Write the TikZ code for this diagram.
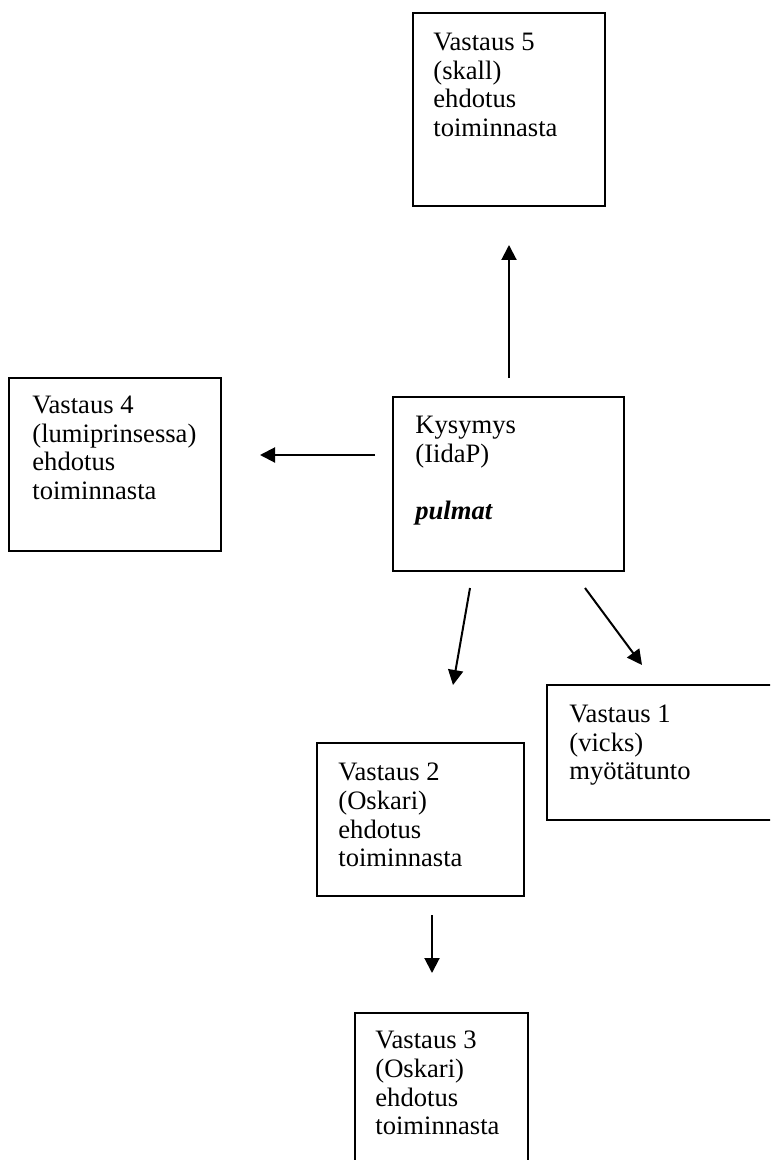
\documentclass[tikz,border=0pt]{standalone}
\usepackage{fontspec}
\setmainfont{Liberation Serif}
\usetikzlibrary{arrows.meta}

\begin{document}
\begin{tikzpicture}[
  x=0.5pt, y=-0.5pt,
  box/.style={draw=black, line width=1pt, anchor=north west, inner sep=0pt, outer sep=0pt},
  label/.style={anchor=north west, align=left, inner sep=0pt,
    font=\fontsize{13.3pt}{14.35pt}\selectfont},
  link/.style={line width=1pt, -{Triangle[length=7.5pt, width=7.5pt]}}
]
% page frame
\useasboundingbox (0,0) rectangle (770,1160);
\fill[white] (0,0) rectangle (770,1160);
\clip (0,0) rectangle (770,1160);

% boxes
\node[box, minimum width=96pt,   minimum height=96.5pt] (v5)  at (413,13)   {};
\node[box, minimum width=106pt,  minimum height=86.5pt] (v4)  at (9,378)    {};
\node[box, minimum width=115.5pt,minimum height=87pt]   (kys) at (393,397)  {};
\node[box, minimum width=125pt,  minimum height=67.5pt] (v1)  at (547,685)  {};
\node[box, minimum width=103.5pt,minimum height=76.5pt] (v2)  at (317,743)  {};
\node[box, minimum width=86.5pt, minimum height=100pt]  (v3)  at (355,1013) {};

% texts
\node[label] (t5)  at (433,32.6)  {Vastaus 5\\(skall)\\ehdotus\\toiminnasta};
\node[label] (t4)  at (32,395.6)  {Vastaus 4\\(lumiprinsessa)\\ehdotus\\toiminnasta};
\node[label] (tk)  at (415,415.6) {Kysymys\\(IidaP)\\\mbox{}\\\textbf{\textit{pulmat}}};
\node[label] (t1)  at (569,704.6) {Vastaus 1\\(vicks)\\myötätunto};
\node[label] (t2)  at (338,762.6) {Vastaus 2\\(Oskari)\\ehdotus\\toiminnasta};
\node[label] (t3)  at (375,1030.6){Vastaus 3\\(Oskari)\\ehdotus\\toiminnasta};

% arrow end points
\coordinate (upS) at (509,378);  \coordinate (upE) at (509,245);
\coordinate (lfS) at (375,455);  \coordinate (lfE) at (260,455);
\coordinate (dlS) at (470,588);  \coordinate (dlE) at (453,685);
\coordinate (drS) at (585,588);  \coordinate (drE) at (642,665);
\coordinate (dnS) at (432,915);  \coordinate (dnE) at (432,973);

% arrows
\draw[link] (upS) -- (upE);
\draw[link] (lfS) -- (lfE);
\draw[link] (dlS) -- (dlE);
\draw[link] (drS) -- (drE);
\draw[link] (dnS) -- (dnE);
\end{tikzpicture}
\end{document}
